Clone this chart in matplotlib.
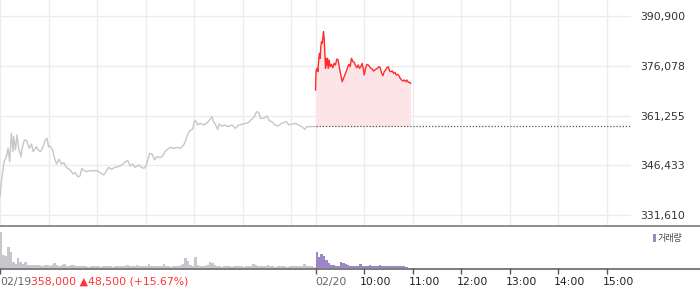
import matplotlib
matplotlib.use("Agg")
import matplotlib.pyplot as plt
from matplotlib.lines import Line2D
from matplotlib.patches import Rectangle
from matplotlib.transforms import blended_transform_factory, ScaledTranslation

# ---------------- data ----------------
# day 1 (02/19): minutes since 09:00, price
day1_min = [0, 2, 5, 8, 10, 12, 14, 16, 17, 19,
            21, 23, 26, 27, 30, 33, 36, 39, 41, 45,
            47, 50, 53, 56, 58, 60, 62, 65, 68, 70,
            73, 76, 79, 82, 87, 90, 93, 96, 99, 101,
            104, 107, 111, 115, 120, 124, 128, 131, 134, 138,
            142, 146, 151, 155, 158, 161, 164, 167, 171, 175,
            178, 181, 185, 188, 191, 194, 198, 201, 204, 207,
            211, 215, 219, 223, 227, 229, 231, 233, 236, 238,
            240, 242, 244, 247, 252, 256, 259, 262, 264, 266,
            269, 271, 274, 278, 282, 287, 291, 295, 299, 303,
            307, 311, 314, 317, 320, 322, 326, 330, 333, 336,
            340, 344, 348, 354, 357, 361, 365, 369, 373, 377,
            379, 384, 390]
day1_price = [337070, 342040, 347500, 348990, 351470, 347500, 355940, 350480, 354950, 350980,
              355450, 351470, 348990, 350980, 353960, 353760, 351470, 352760, 350480, 351970,
              350980, 350480, 351770, 353960, 354450, 351970, 352170, 350980, 348000, 346810,
              348200, 346810, 347200, 345810, 345020, 343830, 344220, 343030, 343230, 345510,
              344820, 344520, 344820, 344820, 344820, 344220, 343530, 344520, 345810, 345220,
              345810, 346010, 346510, 347500, 347800, 346210, 346810, 345810, 346510, 345810,
              345510, 346510, 349980, 349780, 348000, 348990, 348690, 349190, 350480, 351170,
              351770, 351470, 351770, 351470, 352470, 353460, 354950, 356140, 356940, 357130,
              359420, 359720, 358420, 358920, 358420, 359120, 359910, 360910, 359420, 358720,
              357130, 358720, 358130, 358420, 357930, 358420, 357430, 358420, 358620, 358920,
              359120, 360110, 360710, 362400, 362100, 360410, 360410, 361110, 359720, 359420,
              358420, 358130, 358920, 359420, 358420, 358720, 358920, 358420, 357930, 357130,
              357930, 357930, 358000]

# day 2 (02/20): minutes since 09:00, price
day2_min = [0, 0.8, 2.1, 2.9, 4.1, 4.9, 5.8, 6.6, 7.4, 8.2,
            9.1, 9.9, 10.7, 11.5, 12.4, 13.2, 14.0, 14.8, 15.7, 16.9,
            18.1, 19.8, 21.4, 23.1, 24.7, 26.4, 28.0, 29.7, 31.3, 33.0,
            34.6, 36.3, 37.9, 39.6, 41.2, 42.9, 44.5, 46.2, 47.8, 49.5,
            51.1, 52.8, 54.4, 56.1, 57.7, 59.4, 60.2, 61.9, 63.5, 65.2,
            66.8, 68.5, 70.1, 71.8, 73.4, 75.1, 76.7, 78.4, 80.0, 81.7,
            83.3, 85.0, 86.6, 88.3, 89.9, 91.6, 93.2, 94.9, 96.5, 98.2,
            99.8, 101.5, 103.1, 104.7, 106.4, 108.0, 109.7, 111.3, 113.0, 114.6,
            116.3, 117.5]
day2_price = [368850, 374810, 375310, 374320, 378290, 379780, 378290, 381760, 383250, 382760,
              384250, 386230, 384250, 380270, 375310, 378290, 376300, 378290, 375310, 377790,
              375810, 376500, 375510, 376800, 376300, 378090, 377790, 375310, 373320, 371340,
              372330, 373320, 374320, 375510, 376500, 375810, 378290, 377300, 377100, 376100,
              375510, 376300, 375310, 375810, 376800, 374810, 373320, 375310, 376500, 376300,
              375810, 375310, 375110, 374510, 374810, 375110, 375310, 375810, 375510, 373820,
              373120, 374320, 374810, 375510, 375810, 374510, 374320, 374510, 373820, 374120,
              373320, 373520, 373120, 372330, 371830, 371540, 371830, 371340, 371830, 371140,
              371140, 370840]

prev_close = 358000

# volume per 3-minute bucket (relative units)
day1_vol = [36, 13, 12, 21, 16, 6, 4, 10, 6, 4,
            6, 3, 3, 3, 3, 3, 3, 2, 3, 3,
            2, 3, 5, 3, 2, 3, 4, 2, 2, 3,
            3, 2, 2, 2, 2, 2, 1.5, 2, 2, 2,
            2, 1.5, 2, 2, 2, 2, 1.5, 2, 2, 2,
            2, 2, 3, 2, 2, 2, 3, 2, 2, 2,
            2, 4, 2, 2, 2, 2, 2, 4, 2, 2,
            1.5, 2, 2, 2, 3, 4, 10, 7, 3, 2,
            11, 3, 2, 2, 2, 3, 6, 5, 3, 2,
            2, 1.5, 2, 2, 2, 1.5, 2, 2, 2, 2,
            1.5, 2, 2, 2, 4, 3, 2, 2, 2, 2,
            3, 2, 2, 1.5, 2, 2, 2, 2, 1.5, 2,
            2, 2, 2, 2, 2, 4, 2, 2, 2, 1.5]
day2_vol = [16, 11, 14, 12, 8, 5, 3, 3, 2.5, 2,
            6, 5, 4.5, 3, 2, 2, 2, 2, 4, 2,
            2, 2.5, 3, 2, 2, 2, 3, 2, 2, 2,
            2, 2.5, 2, 2, 2, 2, 2, 1.5]

ytick_vals = [331610, 346433, 361255, 376078, 390900]
session_len = 390  # minutes per trading day (09:00-15:30)
hour_ticks = [60, 120, 180, 240, 300, 360]
hour_labels = ["10:00", "11:00", "12:00", "13:00", "14:00", "15:00"]
header_date = "02/19"
day2_date = "02/20"
header_info = "358,000 \u25b248,500 (+15.67%)"

# ---------------- figure ----------------
W, H = 700, 289
fig = plt.figure(figsize=(W / 100, H / 100), dpi=100)
fig.patch.set_facecolor("white")

right_px = 631
ax = fig.add_axes([0, 1 - 226 / H, right_px / W, 226 / H])
axv = fig.add_axes([0, 1 - 268 / H, right_px / W, 42 / H])

gray_line = "#c6c6cc"
red = "#ff2b2b"
pink = "#fde4e7"
purple = "#9b86c6"

# price
x1 = day1_min
x2 = [session_len + m for m in day2_min]
ax.plot(x1, day1_price, color=gray_line, lw=1.0, zorder=3)
ax.fill_between(x2, day2_price, prev_close, color=pink, lw=0, zorder=2)
ax.plot(x2, day2_price, color=red, lw=1.0, zorder=4)
ax.plot([session_len, 2 * session_len], [prev_close, prev_close], color="#555555",
        lw=0.9, ls=(0, (1, 1.5)), zorder=3)

ax.set_xlim(0, 2 * session_len)
ax.set_ylim(328333, 395667)
grid_x = [0] + hour_ticks + [session_len] + [session_len + h for h in hour_ticks]
ax.set_xticks(grid_x)
ax.set_yticks(ytick_vals)
ax.set_yticklabels([f"{v:,}" for v in ytick_vals])
ax.grid(True, color="#ececec", lw=1.0, zorder=0)
ax.set_axisbelow(True)
ax.tick_params(axis="x", length=0, labelbottom=False)
ax.yaxis.tick_right()
ax.tick_params(axis="y", length=0, pad=6.5, labelsize=7.8, labelcolor="#333333")
for s in ax.spines.values():
    s.set_visible(False)

# volume
axv.bar([3 * i for i in range(len(day1_vol))], day1_vol, width=3, align="edge",
        color=gray_line, lw=0)
axv.bar([session_len + 3 * i for i in range(len(day2_vol))], day2_vol, width=3,
        align="edge", color=purple, lw=0)
axv.set_xlim(0, 2 * session_len)
axv.set_ylim(0, 42)
axv.set_yticks([])
axv.set_xticks([0, session_len] + [session_len + h for h in hour_ticks])
axv.tick_params(axis="x", direction="out", length=4, width=1, color="#555555",
                labelbottom=False)
for s in axv.spines.values():
    s.set_visible(False)

# separator lines across full width
fig.add_artist(Line2D([0, 1], [1 - 226 / H, 1 - 226 / H], transform=fig.transFigure,
                      color="#7a7a7a", lw=1.2))
fig.add_artist(Line2D([0, 1], [1 - 268.5 / H, 1 - 268.5 / H], transform=fig.transFigure,
                      color="#666666", lw=1.2))

# x labels
ylab = 1 - 282 / H
trans = blended_transform_factory(axv.transData, fig.transFigure)
t0 = fig.text(0, ylab, header_date, color="#666666", fontsize=7.8, va="center", ha="left")
fig.canvas.draw()
fig.texts.append(None) if False else None
ann = axv.annotate(header_info, xy=(1, 0.5), xycoords=t0, va="center", ha="left",
                   color="#ff3333", fontsize=7.8, annotation_clip=False)
axv.text(session_len, ylab, day2_date, transform=trans, color="#666666", fontsize=7.8,
         va="center", ha="left")
off = ScaledTranslation(-4 / 100, 0, fig.dpi_scale_trans)
for h, lab in zip(hour_ticks, hour_labels):
    axv.text(session_len + h, ylab, lab, transform=trans + off, color="#222222",
             fontsize=7.8, va="center", ha="left")

# legend
fig.add_artist(Rectangle((653 / W, 1 - 242 / H), 3 / W, 8 / H, transform=fig.transFigure,
                         color=purple, lw=0))
fig.text(658 / W, 1 - 238 / H, "거래량", family=["Noto Sans CJK KR", "DejaVu Sans"],
         fontsize=6.5, color="#444444", va="center", ha="left")

fig.savefig("out.png", dpi=100, facecolor="white")
